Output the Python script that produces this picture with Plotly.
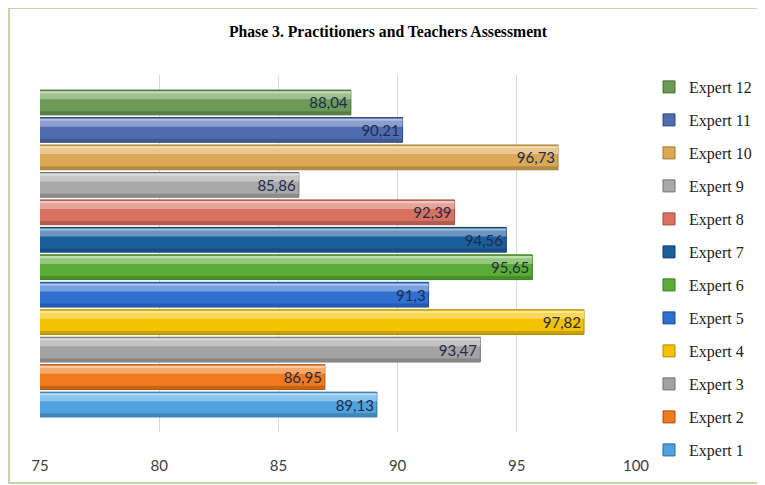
import plotly.graph_objects as go

experts = ["Expert 1", "Expert 2", "Expert 3", "Expert 4", "Expert 5", "Expert 6",
           "Expert 7", "Expert 8", "Expert 9", "Expert 10", "Expert 11", "Expert 12"]
scores = [89.13, 86.95, 93.47, 97.82, 91.3, 95.65, 94.56, 92.39, 85.86, 96.73, 90.21, 88.04]
colors = ["#4ea3de", "#ef7b1c", "#a3a3a3", "#f4c200", "#2f6fcf", "#5aac35",
          "#1c5d9c", "#d8715f", "#a9a9a9", "#dba955", "#4f6cb0", "#6b9b56"]
edges = ["#2a6a9a", "#a85010", "#707070", "#b08a00", "#1d4a90", "#3a7a20",
         "#103a66", "#a04a3a", "#707070", "#a07830", "#2e4580", "#456a35"]
x_ticks = [75, 80, 85, 90, 95, 100]


def mix(hex_color, other, t):
    h = hex_color.lstrip("#")
    o = other.lstrip("#")
    rgb = [int(h[i:i + 2], 16) for i in (0, 2, 4)]
    orgb = [int(o[i:i + 2], 16) for i in (0, 2, 4)]
    return "rgb({},{},{})".format(*[round(a + (b - a) * t) for a, b in zip(rgb, orgb)])


# the page body has an 8px margin: figure coordinates = screen coordinates - 8
# margin area spans figure y 40..445; axes domains place the plot at y 67..424
T, B = 40, 445
H = B - T


def py(fig_y):
    return (B - fig_y) / H


fig = go.Figure()
rows = list(zip(experts, scores, colors, edges))
for name, v, c, e in reversed(rows):
    fig.add_trace(go.Bar(
        y=[name], x=[v], orientation="h", name=name, legendgroup=name,
        marker=dict(color=c, line=dict(color=e, width=1)), width=0.9,
        hoverinfo="x+name",
    ))
for name, v, c, e in reversed(rows):
    fig.add_trace(go.Bar(
        y=[name], x=[v], orientation="h", name=name, legendgroup=name, showlegend=False,
        marker=dict(color=mix(c, "#ffffff", 0.35), line=dict(width=0)),
        width=0.22, offset=0.12, hoverinfo="skip",
    ))
    fig.add_trace(go.Bar(
        y=[name], x=[v], orientation="h", name=name, legendgroup=name, showlegend=False,
        marker=dict(color=mix(c, "#ffffff", 0.6), line=dict(width=0)),
        width=0.08, offset=0.33, hoverinfo="skip",
    ))
    fig.add_trace(go.Bar(
        y=[name], x=[v], orientation="h", name=name, legendgroup=name, showlegend=False,
        marker=dict(color=mix(c, "#000000", 0.18), line=dict(width=0)),
        width=0.12, offset=-0.44, hoverinfo="skip",
    ))
for name, v, c, e in reversed(rows):
    fig.add_trace(go.Bar(
        y=[name], x=[v], orientation="h", name=name, legendgroup=name, showlegend=False,
        marker=dict(color="rgba(0,0,0,0)", line=dict(width=0)), width=0.9,
        text=[str(v).replace(".", ",")], textposition="inside", insidetextanchor="end",
        textfont=dict(family="Lato", size=15, color="#1f2c4c"),
        constraintext="none", cliponaxis=False, hoverinfo="skip",
    ))

fig.update_layout(
    width=765, height=485,
    margin=dict(l=32, r=137, t=T, b=485 - B, autoexpand=False),
    paper_bgcolor="white", plot_bgcolor="white",
    barmode="overlay",
    title=dict(text="<b>Phase 3. Practitioners and Teachers Assessment</b>",
               x=380 / 765, xanchor="center", y=1 - 24 / 485, yanchor="middle",
               font=dict(family="Liberation Serif", size=15.7, color="#000000")),
    xaxis=dict(range=[75, 100], tickvals=x_ticks, showgrid=True, gridcolor="#d9d9d9",
               gridwidth=1, zeroline=False, showline=False, ticks="",
               ticklabelstandoff=23, automargin=False,
               tickfont=dict(family="Lato", size=15, color="#404040")),
    yaxis=dict(categoryorder="array", categoryarray=experts, range=[-1, 12],
               domain=[py(424), py(67)],
               showticklabels=False, showgrid=False, zeroline=False, showline=False,
               automargin=False),
    legend=dict(x=(641 - 32) / 596, xanchor="left", y=py(62), yanchor="top",
                traceorder="grouped", tracegroupgap=9.2,
                font=dict(family="Liberation Serif", size=16, color="#222222"),
                itemwidth=30, bgcolor="rgba(0,0,0,0)"),
    showlegend=True,
)

fig.add_shape(type="rect", xref="paper", yref="paper",
              x0=(1 - 32) / 596, x1=(800 - 32) / 596,
              y0=py(475), y1=py(0),
              line=dict(color="#c3d7ad", width=2), fillcolor="rgba(0,0,0,0)", layer="below")

fig.write_html("out.html")
